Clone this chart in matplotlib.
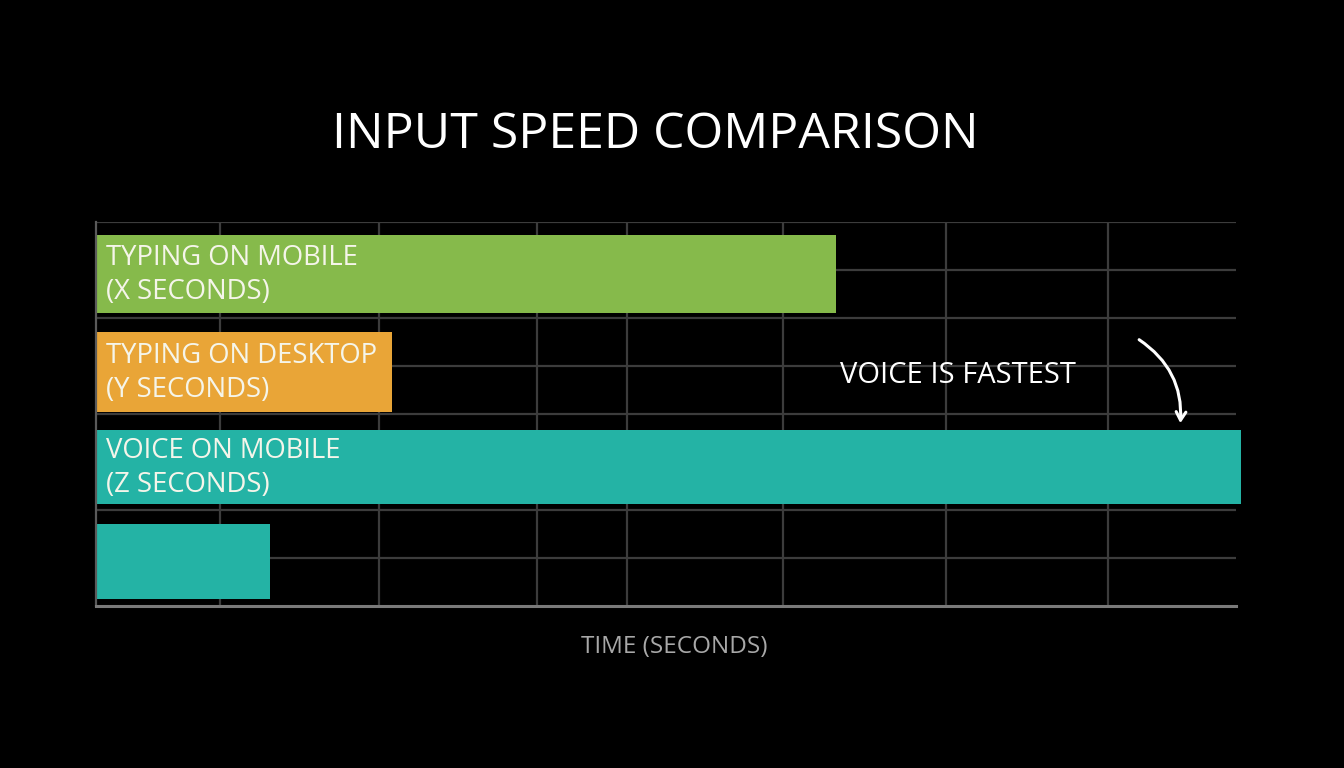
import matplotlib
matplotlib.use("Agg")
import matplotlib.pyplot as plt

plt.rcParams['font.family'] = ['Open Sans', 'DejaVu Sans']

# ---- data ----
categories = ["TYPING ON MOBILE\n(X SECONDS)",
              "TYPING ON DESKTOP\n(Y SECONDS)",
              "VOICE ON MOBILE\n(Z SECONDS)",
              ""]
values = [64.9, 26.0, 100.4, 15.3]
bar_colors = ["#86ba4b", "#e9a537", "#24b3a5", "#24b3a5"]
grid_x = [10.9, 24.8, 38.7, 46.6, 60.3, 74.6, 88.8]
title = "INPUT SPEED COMPARISON"
xlabel = "TIME (SECONDS)"
callout = "VOICE IS FASTEST"

# ---- layout ----
bar_pos = [1.08, 3.12, 5.10, 7.07]
bar_h = [1.63, 1.67, 1.54, 1.56]

fig = plt.figure(figsize=(13.44, 7.68), dpi=100, facecolor="black")
ax = fig.add_axes([96/1344, 1-606/768, 1140/1344, 384/768])
ax.set_facecolor("black")
ax.set_xlim(0, 100)
ax.set_ylim(8, 0)

# grid
for gx in grid_x:
    ax.axvline(gx, color="#3c3c3c", lw=1.6, zorder=0)
for gy in range(0, 8):
    ax.axhline(gy, color="#3c3c3c", lw=1.6, zorder=0)

bars = ax.barh(bar_pos, values, height=bar_h, color=bar_colors, zorder=2)
for b in bars:
    b.set_clip_on(False)

for p, lab in zip(bar_pos, categories):
    if lab:
        ax.text(0.9, p + 0.02, lab, color="#f5f5ea", fontsize=19.8, va="center",
                ha="left", linespacing=1.3, zorder=3)

ax.text(65.3, 3.19, callout, color="white", fontsize=21, va="center",
        ha="left", zorder=3)
ax.annotate("", xy=(95.1, 4.25), xytext=(91.3, 2.42),
            arrowprops=dict(arrowstyle="->,head_length=0.6,head_width=0.35",
                            color="white", lw=2.2,
                            connectionstyle="arc3,rad=-0.3"),
            zorder=4, annotation_clip=False)

for s in ["top", "right"]:
    ax.spines[s].set_visible(False)
ax.spines["left"].set_color("#5a5a5a")
ax.spines["left"].set_linewidth(1.6)
ax.spines["bottom"].set_color("#7a7a7a")
ax.spines["bottom"].set_linewidth(2.2)
ax.set_xticks([])
ax.set_yticks([])

fig.text(655/1344, 1-135/768, title, color="white", fontsize=36,
         ha="center", va="center")
fig.text(674/1344, 1-647/768, xlabel, color="#a8a8a8", fontsize=17.5,
         ha="center", va="center")

fig.savefig("out.png", dpi=100, facecolor="black")
